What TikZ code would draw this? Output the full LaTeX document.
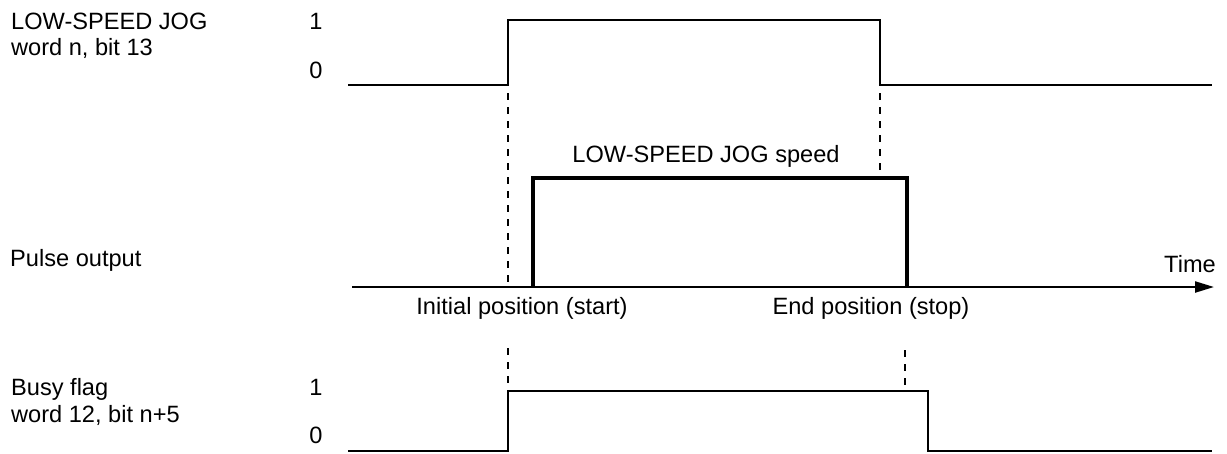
\documentclass[tikz,border=0pt]{standalone}
\usepackage{fontspec}
\setmainfont{Liberation Sans}
\usetikzlibrary{arrows.meta}
\begin{document}
\begin{tikzpicture}[x=1pt,y=-1pt,
  lbl/.style={inner sep=0pt,font=\fontsize{23.6}{28}\selectfont},
  sig/.style={line width=2.2pt,line join=miter},
  pulse/.style={line width=4.5pt,line join=miter},
  guide/.style={line width=2pt,dash pattern=on 7pt off 7pt},
  axis/.style={line width=2.2pt,-{Triangle[length=19pt,width=11pt]}}]
\useasboundingbox (0,0) rectangle (1227,453);
% left labels
\node[lbl,anchor=base west] (l1) at (11,29) {LOW-SPEED JOG};
\node[lbl,anchor=base west] (l2) at (11,55) {word n, bit 13};
\node[lbl,anchor=base] (one1) at (316,29) {1};
\node[lbl,anchor=base] (zero1) at (316,78) {0};
\node[lbl,anchor=base west] (po) at (10,266) {Pulse output};
\node[lbl,anchor=base west] (b1) at (11,395) {Busy flag};
\node[lbl,anchor=base west] (b2) at (11,422) {word 12, bit n+5};
\node[lbl,anchor=base] (one2) at (316,395) {1};
\node[lbl,anchor=base] (zero2) at (316,443) {0};
% top signal
\coordinate (t0) at (348,85);
\coordinate (tr) at (508,85);
\coordinate (tf) at (880,85);
\coordinate (t1) at (1212,85);
\draw[sig] (t0) -- (tr) -- (508,20) -- (880,20) -- (tf) -- (t1);
% axis
\coordinate (a0) at (352,287);
\coordinate (a1) at (1214,287);
\draw[axis] (a0) -- (a1);
\node[lbl,anchor=base east] (time) at (1216,272) {Time};
% pulse
\coordinate (pr) at (533,287);
\coordinate (pf) at (907,287);
\draw[pulse] (pr) -- (533,178) -- (907,178) -- (pf);
\node[lbl,anchor=base] (spd) at (706,162) {LOW-SPEED JOG speed};
\node[lbl,anchor=base] (ini) at (522,314) {Initial position (start)};
\node[lbl,anchor=base] (endp) at (871,314) {End position (stop)};
% guides
\coordinate (g1a) at (508,93);
\coordinate (g1b) at (508,287);
\coordinate (g2a) at (880,93);
\coordinate (g2b) at (880,170);
\coordinate (g3a) at (508,348);
\coordinate (g3b) at (508,385);
\coordinate (g4a) at (905,350);
\coordinate (g4b) at (905,385);
\draw[guide] (g1a) -- (g1b);
\draw[guide] (g2a) -- (g2b);
\draw[guide] (g3a) -- (g3b);
\draw[guide] (g4a) -- (g4b);
% busy flag
\coordinate (b0) at (348,451);
\coordinate (br) at (508,451);
\coordinate (bf) at (928,451);
\coordinate (bend) at (1212,451);
\draw[sig] (b0) -- (br) -- (508,391) -- (928,391) -- (bf) -- (bend);
\end{tikzpicture}
\end{document}
